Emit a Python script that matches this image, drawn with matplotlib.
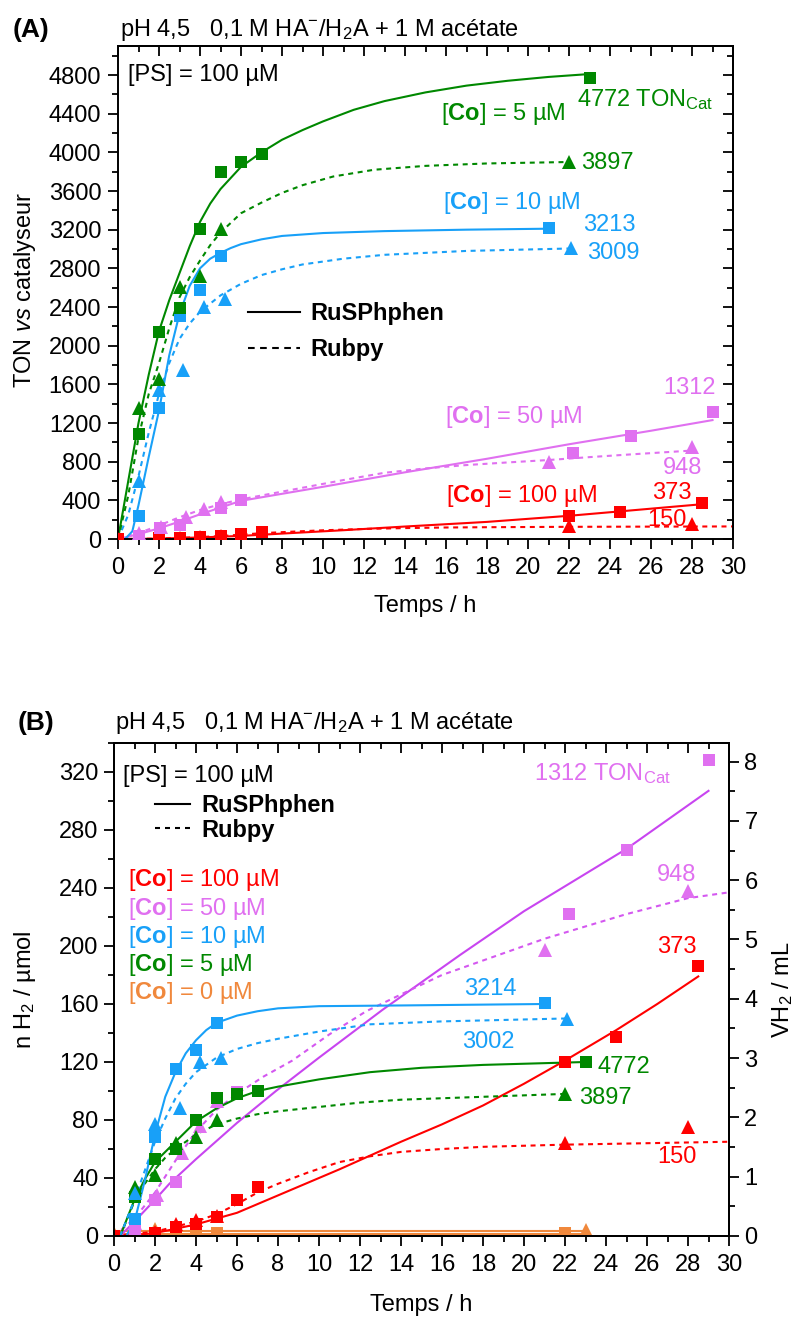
import numpy as np
import matplotlib
matplotlib.use("Agg")
import matplotlib.pyplot as plt
from matplotlib.lines import Line2D
from matplotlib.ticker import MultipleLocator

plt.rcParams['font.family'] = ['Liberation Sans', 'DejaVu Sans']
plt.rcParams['mathtext.fontset'] = 'custom'
plt.rcParams['mathtext.rm'] = 'Liberation Sans'
plt.rcParams['mathtext.it'] = 'Liberation Sans:italic'
plt.rcParams['mathtext.bf'] = 'Liberation Sans:bold'
plt.rcParams['axes.linewidth'] = 1.4

GREEN = '#008800'
BLUE = '#18a0f8'
PINK = '#e070f0'
PURPLE = '#c845f0'
RED = '#ff0000'
ORANGE = '#f0883c'

# ---------------- (A) TON vs catalyst ----------------
# squares = RuSPhphen, triangles = Rubpy
a_co5_sq_t = [1, 2, 3, 4, 5, 6, 7, 23]
a_co5_sq = [1086, 2140, 2390, 3210, 3800, 3900, 3980, 4772]
a_co5_tr_t = [1, 2, 3, 4, 5, 22]
a_co5_tr = [1355, 1655, 2605, 2720, 3206, 3897]
a_co10_sq_t = [1, 2, 3, 4, 5, 21]
a_co10_sq = [238, 1355, 2306, 2575, 2927, 3213]
a_co10_tr_t = [1, 2, 3.15, 4.2, 5.2, 22.1]
a_co10_tr = [600, 1540, 1750, 2400, 2480, 3009]
a_co50_sq_t = [1, 2.05, 3, 5, 6, 22.2, 25, 29]
a_co50_sq = [30, 114, 145, 320, 403, 889, 1065, 1312]
a_co50_tr_t = [1, 2.1, 3.3, 4.2, 5, 21, 28]
a_co50_tr = [62, 124, 228, 310, 383, 796, 955]
a_co100_sq_t = [0, 2, 3, 4, 5, 6, 7, 22, 24.5, 28.5]
a_co100_sq = [0, 10, 14, 20, 30, 52, 70, 238, 279, 373]
a_co100_tr_t = [0, 1, 2, 3, 4, 5, 22, 28]
a_co100_tr = [0, 20, 25, 15, 22, 30, 134, 155]

# fitted curves
a_fit5_s_t = [0, 0.5, 1, 1.5, 2, 2.5, 3, 3.5, 4, 4.5, 5, 6, 7, 8, 9, 10, 11.5, 13, 15, 17, 19, 21, 23]
a_fit5_s = [0, 600, 1200, 1700, 2150, 2470, 2750, 3030, 3280, 3470, 3620, 3850, 4000, 4130, 4230,
            4320, 4440, 4530, 4620, 4690, 4740, 4780, 4810]
a_fit5_d_t = [0, 0.5, 1, 1.5, 2, 2.5, 3, 3.5, 4, 4.5, 5, 6, 7, 8, 9, 10.5, 12.5, 15, 18, 22]
a_fit5_d = [0, 450, 1050, 1500, 1820, 2180, 2500, 2710, 2880, 3040, 3170, 3370, 3480, 3580, 3660,
            3750, 3820, 3860, 3885, 3900]
a_fit10_s_t = [0.35, 0.7, 1, 1.5, 2, 2.5, 3, 3.5, 4, 4.5, 5, 5.5, 6, 7, 8, 10, 13, 17, 21]
a_fit10_s = [0, 80, 350, 850, 1330, 1900, 2330, 2620, 2800, 2900, 2960, 3010, 3050, 3100, 3135,
             3165, 3185, 3200, 3210]
a_fit10_d_t = [0, 0.5, 1, 1.5, 2, 2.5, 3, 3.5, 4, 5, 6, 7, 8, 9, 11, 13, 17, 22]
a_fit10_d = [0, 250, 650, 1100, 1500, 1820, 2070, 2230, 2350, 2520, 2640, 2730, 2790, 2840, 2900,
             2940, 2980, 3005]
a_fit50_s_t = [0, 1, 2, 3, 4, 6, 10, 14, 18, 22, 26, 29]
a_fit50_s = [0, 50, 110, 180, 255, 395, 540, 690, 830, 980, 1120, 1230]
a_fit50_d_t = [0, 1, 2, 3, 4, 5, 6, 7.5, 9, 11, 13, 15, 17, 19, 21, 23, 25, 28]
a_fit50_d = [0, 60, 140, 225, 300, 360, 410, 470, 530, 610, 685, 730, 765, 792, 817, 847, 875, 915]
a_fit100_s_t = [0.5, 2, 4, 6, 8, 11, 14, 18, 22, 24.5, 28.5]
a_fit100_s = [0, 4, 16, 32, 56, 91, 129, 177, 240, 286, 360]
a_fit100_d_t = [0, 2, 4, 5, 6, 7, 8.5, 10, 12, 14, 16, 18, 22, 30]
a_fit100_d = [0, 4, 20, 30, 45, 60, 76, 90, 104, 113, 119, 122, 126, 130]

# ---------------- (B) n H2 ----------------
b_co5_sq_t = [1, 2, 3, 4, 5, 6, 7, 23]
b_co5_sq = [27, 53, 60, 80, 95, 98, 100, 120]
b_co5_tr_t = [1, 2, 3, 4, 5, 22]
b_co5_tr = [34, 42, 64, 68, 80, 98]
b_co10_sq_t = [1, 2, 3, 4, 5, 21]
b_co10_sq = [12, 68, 115, 128, 147, 161]
b_co10_tr_t = [1, 2, 3.2, 4.2, 5.2, 22.1]
b_co10_tr = [30, 77, 88, 120, 123, 150]
b_co50_sq_t = [1, 2, 3, 6, 22.2, 25, 29]
b_co50_sq = [5, 25, 37, 99, 222, 266, 328]
b_co50_tr_t = [1, 2.1, 3.3, 4.2, 5, 21, 28]
b_co50_tr = [9, 28, 57, 76, 93, 197, 238]
b_co100_sq_t = [0, 2, 3, 4, 5, 6, 7, 22, 24.5, 28.5]
b_co100_sq = [0, 2, 6, 8, 13, 25, 34, 120, 137, 186]
b_co100_tr_t = [0, 1, 2, 3, 4, 5, 22, 28]
b_co100_tr = [0, 2, 3, 8, 11, 14, 64, 75]
b_co0_sq_t = [0, 1, 2, 3, 4, 5, 22]
b_co0_sq = [0, 1, 1, 1, 1, 2, 2]
b_co0_tr_t = [0, 1, 2, 4, 23]
b_co0_tr = [2, 5, 5, 4, 4]

b_fit5_s_t = [0.3, 1, 1.5, 2, 2.5, 3, 3.5, 4, 5, 6, 7, 8, 10, 12.5, 15, 18, 23]
b_fit5_s = [0, 25, 39, 51, 58, 65, 72, 79, 88, 95, 100, 103, 108, 113, 116, 118, 120]
b_fit5_d_t = [0.3, 1, 1.5, 2, 2.5, 3, 4, 5, 6, 7, 8, 10, 12, 14, 18, 22]
b_fit5_d = [0, 24, 36, 46, 54, 60, 70, 77, 81, 84, 86, 89, 92, 94, 96, 98]
b_fit10_s_t = [0.6, 1, 1.5, 2, 2.5, 3, 3.5, 4, 4.5, 5, 6, 7, 8, 10, 14, 21]
b_fit10_s = [0, 10, 38, 70, 96, 113, 126, 135, 142, 147, 152, 155, 157, 158.5, 159, 160]
b_fit10_d_t = [0.3, 1, 1.5, 2, 2.5, 3, 3.5, 4, 5, 6, 7, 8, 10, 12.5, 16, 22]
b_fit10_d = [0, 25, 45, 65, 81, 95, 105, 113, 123, 129, 133, 136, 141, 146, 148, 150]
b_fit50_s_t = [0.3, 1, 2, 2.7, 4, 6, 7.9, 10, 13.1, 16.9, 20, 25, 29]
b_fit50_s = [0, 10, 25, 36, 53, 78, 100, 123, 156, 194, 224, 267, 307]
b_fit50_d_t = [0, 1, 2, 3, 4, 5, 6, 7.3, 8.7, 10.5, 12.3, 14.5, 16, 18, 21, 25, 28, 30]
b_fit50_d = [0, 12, 30, 52, 72, 87, 98, 110, 121, 139, 155, 170, 180, 190, 205, 222, 233, 237]
b_fit100_s_t = [0.5, 2, 4, 6, 8, 11, 14, 16, 18, 20, 22, 24.5, 26.5, 28.5]
b_fit100_s = [0, 2, 8, 16, 28, 46, 65, 77, 90, 105, 121, 142, 160, 179]
b_fit100_d_t = [0, 2, 4, 5, 6, 7, 8, 9.5, 11, 12.5, 14, 16, 18, 22, 30]
b_fit100_d = [0, 3, 10, 15, 22, 30, 36, 44, 51, 55, 58, 60, 61.5, 63, 65]
b_fit0_s_t = [0, 23]
b_fit0_s = [1.5, 1.5]
b_fit0_d_t = [0, 23]
b_fit0_d = [3.5, 3.5]

UMOL_PER_ML = 40.9

DASH = (0, (2.4, 2.2))
LW = 1.5
MS_SQ = 8
MS_TR = 9.5

fig = plt.figure(figsize=(7.96, 13.17), dpi=100)
axA = fig.add_axes([118 / 796, 1 - 539 / 1317, 615 / 796, 493 / 1317])
axB = fig.add_axes([114 / 796, 1 - 1236 / 1317, 615 / 796, 493 / 1317])


def series(ax, col, st, s, dt, d, fst, fs, fdt, fd, lcol_s=None, lcol_d=None, dash=DASH):
    ax.plot(fst, fs, '-', color=lcol_s or col, lw=LW, zorder=2)
    ax.plot(fdt, fd, linestyle=dash, color=lcol_d or col, lw=LW, zorder=2)
    ax.plot(st, s, 's', color=col, ms=MS_SQ, mew=0, zorder=3)
    ax.plot(dt, d, '^', color=col, ms=MS_TR, mew=0, zorder=3)


series(axA, RED, a_co100_sq_t, a_co100_sq, a_co100_tr_t, a_co100_tr,
       a_fit100_s_t, a_fit100_s, a_fit100_d_t, a_fit100_d)
series(axA, PINK, a_co50_sq_t, a_co50_sq, a_co50_tr_t, a_co50_tr,
       a_fit50_s_t, a_fit50_s, a_fit50_d_t, a_fit50_d)
series(axA, BLUE, a_co10_sq_t, a_co10_sq, a_co10_tr_t, a_co10_tr,
       a_fit10_s_t, a_fit10_s, a_fit10_d_t, a_fit10_d)
series(axA, GREEN, a_co5_sq_t, a_co5_sq, a_co5_tr_t, a_co5_tr,
       a_fit5_s_t, a_fit5_s, a_fit5_d_t, a_fit5_d)

series(axB, ORANGE, b_co0_sq_t, b_co0_sq, b_co0_tr_t, b_co0_tr,
       b_fit0_s_t, b_fit0_s, b_fit0_d_t, b_fit0_d, dash='-')
series(axB, RED, b_co100_sq_t, b_co100_sq, b_co100_tr_t, b_co100_tr,
       b_fit100_s_t, b_fit100_s, b_fit100_d_t, b_fit100_d)
series(axB, PINK, b_co50_sq_t, b_co50_sq, b_co50_tr_t, b_co50_tr,
       b_fit50_s_t, b_fit50_s, b_fit50_d_t, b_fit50_d, lcol_s=PURPLE, lcol_d='#d458f0')
series(axB, GREEN, b_co5_sq_t, b_co5_sq, b_co5_tr_t, b_co5_tr,
       b_fit5_s_t, b_fit5_s, b_fit5_d_t, b_fit5_d)
series(axB, BLUE, b_co10_sq_t, b_co10_sq, b_co10_tr_t, b_co10_tr,
       b_fit10_s_t, b_fit10_s, b_fit10_d_t, b_fit10_d)

FS = 17


def style_axes(ax, ymax, ymaj, ymin, ypad, right_inward=True):
    ax.set_xlim(0, 30)
    ax.set_ylim(0, ymax)
    ax.xaxis.set_major_locator(MultipleLocator(2))
    ax.xaxis.set_minor_locator(MultipleLocator(1))
    ax.yaxis.set_major_locator(MultipleLocator(ymaj))
    ax.yaxis.set_minor_locator(MultipleLocator(ymin))
    ax.tick_params(which='major', direction='out', length=7, width=1.3, labelsize=FS)
    ax.tick_params(which='minor', direction='out', length=4, width=1.3)
    ax.tick_params(axis='x', which='major', pad=6)
    ax.tick_params(axis='y', which='major', pad=ypad)
    top = ax.secondary_xaxis('top')
    top.xaxis.set_major_locator(MultipleLocator(2))
    top.xaxis.set_minor_locator(MultipleLocator(1))
    top.tick_params(which='major', direction='in', length=7, width=1.3, labeltop=False)
    top.tick_params(which='minor', direction='in', length=4, width=1.3)
    top.spines['top'].set_linewidth(1.4)
    if right_inward:
        rgt = ax.secondary_yaxis('right')
        rgt.yaxis.set_major_locator(MultipleLocator(ymaj))
        rgt.yaxis.set_minor_locator(MultipleLocator(ymin))
        rgt.tick_params(which='major', direction='in', length=7, width=1.3, labelright=False)
        rgt.tick_params(which='minor', direction='in', length=4, width=1.3)
        rgt.spines['right'].set_linewidth(1.4)


style_axes(axA, 5100, 400, 200, 5)
style_axes(axB, 340, 40, 20, 4, right_inward=False)

axR = axB.twinx()
axR.set_ylim(0, 340 / UMOL_PER_ML)
axR.yaxis.set_major_locator(MultipleLocator(1))
axR.yaxis.set_minor_locator(MultipleLocator(0.5))
axR.tick_params(which='major', direction='out', length=7, width=1.3, labelsize=FS, pad=4)
axR.tick_params(which='minor', direction='out', length=4, width=1.3)

CO = r'[$\mathbf{Co}$] = '

# labels (A)
axA.text(0.5, 4800, '[PS] = 100 µM', fontsize=FS, va='center')
axA.text(15.75, 4396, CO + '5 µM', color=GREEN, fontsize=FS, va='center')
axA.text(22.4, 4541, r'4772 TON$_{\mathregular{Cat}}$', color=GREEN, fontsize=FS, va='center')
axA.text(22.6, 3890, '3897', color=GREEN, fontsize=FS, va='center')
axA.text(15.85, 3476, CO + '10 µM', color=BLUE, fontsize=FS, va='center')
axA.text(22.7, 3248, '3213', color=BLUE, fontsize=FS, va='center')
axA.text(22.9, 2958, '3009', color=BLUE, fontsize=FS, va='center')
axA.text(15.95, 1262, CO + '50 µM', color=PINK, fontsize=FS, va='center')
axA.text(26.6, 1562, '1312', color=PINK, fontsize=FS, va='center')
axA.text(26.6, 734, '948', color=PINK, fontsize=FS, va='center')
axA.text(16.0, 445, CO + '100 µM', color=RED, fontsize=FS, va='center')
axA.text(26.05, 476, '373', color=RED, fontsize=FS, va='center')
axA.text(25.8, 197, '150', color=RED, fontsize=FS, va='center')

hA = [Line2D([], [], color='black', lw=LW, ls='-'),
      Line2D([], [], color='black', lw=LW, ls=(0, (3.2, 2.6)))]
axA.legend(hA, ['RuSPhphen', 'Rubpy'], loc='center left', bbox_to_anchor=(0.2114, 0.42),
           frameon=False, borderpad=0, borderaxespad=0, handlelength=2.2,
           handletextpad=0.45, labelspacing=0.55, prop={'weight': 'bold', 'size': FS})

# labels (B)
axB.text(0.44, 317, '[PS] = 100 µM', fontsize=FS, va='center')
for txt, col, yv in [('100 µM', RED, 245.5), ('50 µM', PINK, 225.5), ('10 µM', BLUE, 206),
                     ('5 µM', GREEN, 187), ('0 µM', ORANGE, 167.6)]:
    axB.text(0.68, yv, CO + txt, color=col, fontsize=FS, va='center')
axB.text(20.5, 318.6, r'1312 TON$_{\mathregular{Cat}}$', color=PINK, fontsize=FS, va='center')
axB.text(26.5, 249, '948', color=PINK, fontsize=FS, va='center')
axB.text(26.5, 199, '373', color=RED, fontsize=FS, va='center')
axB.text(17.1, 170, '3214', color=BLUE, fontsize=FS, va='center')
axB.text(17.0, 134, '3002', color=BLUE, fontsize=FS, va='center')
axB.text(23.6, 116.5, '4772', color=GREEN, fontsize=FS, va='center')
axB.text(22.7, 95, '3897', color=GREEN, fontsize=FS, va='center')
axB.text(26.5, 54.5, '150', color=RED, fontsize=FS, va='center')

hB = [Line2D([], [], color='black', lw=LW, ls='-'),
      Line2D([], [], color='black', lw=LW, ls=(0, (2.4, 2.4)))]
axB.legend(hB, ['RuSPhphen', 'Rubpy'], loc='center left', bbox_to_anchor=(0.0667, 0.848),
           frameon=False, borderpad=0, borderaxespad=0, handlelength=1.5,
           handletextpad=0.45, labelspacing=0.05, prop={'weight': 'bold', 'size': FS})

# titles and axis labels
title = r'pH 4,5   0,1 M HA$^{\mathregular{-}}$/H$_{\mathregular{2}}$A + 1 M acétate'
fig.text(13 / 796, 1 - 30 / 1317, '(A)', fontsize=19, weight='bold', va='center')
fig.text(120 / 796, 1 - 30 / 1317, title, fontsize=FS, va='center')
fig.text(18 / 796, 1 - 723 / 1317, '(B)', fontsize=19, weight='bold', va='center')
fig.text(115 / 796, 1 - 723 / 1317, title, fontsize=FS, va='center')

fig.text(425 / 796, 1 - 606 / 1317, 'Temps / h', fontsize=FS, ha='center', va='center')
fig.text(421 / 796, 1 - 1305 / 1317, 'Temps / h', fontsize=FS, ha='center', va='center')
fig.text(25 / 796, 1 - 290 / 1317, r'TON $\mathit{vs}$ catalyseur', fontsize=FS,
         rotation=90, ha='center', va='center')
fig.text(25 / 796, 1 - 990 / 1317, r'n H$_{\mathregular{2}}$ / µmol', fontsize=FS,
         rotation=90, ha='center', va='center')
fig.text(783 / 796, 1 - 990 / 1317, r'VH$_{\mathregular{2}}$ / mL', fontsize=FS,
         rotation=90, ha='center', va='center')

fig.savefig('out.png', dpi=100)
